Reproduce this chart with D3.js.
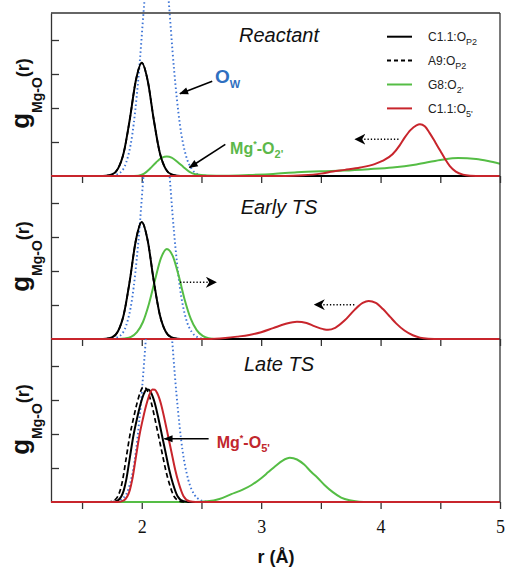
<!DOCTYPE html>
<html>
<head>
<meta charset="utf-8">
<script src="https://cdnjs.cloudflare.com/ajax/libs/d3/7.8.5/d3.min.js"></script>
<style>
body { margin: 0; background: #fff; }
svg { display: block; }
</style>
</head>
<body>
<svg id="canvas" width="505" height="569"></svg>
<script>
/************* Data **************/
var r_domain = [1.24, 5];
var x_ticks = [1.5, 2, 2.5, 3, 3.5, 4, 4.5, 5];
var y_ticks = [1, 2, 3, 4];
var panel_titles = ["Reactant", "Early TS", "Late TS"];

// [r, g(r)]
var reactant_ow = [[1.24,0],[1.72,0],[1.77,0.02],[1.82,0.1],[1.87,0.4],[1.92,1.2],[1.97,2.8],[2.02,5.05],[2.07,7.25],[2.12,8.2],[2.17,7.4],[2.22,5.4],[2.27,3.15],[2.32,1.5],[2.37,0.6],[2.42,0.2],[2.47,0.05],[2.52,0.01],[2.6,0],[5,0]];
var reactant_c11_op2 = [[1.24,0],[1.65,0],[1.70,0.007],[1.75,0.044],[1.80,0.21],[1.85,0.70],[1.90,1.67],[1.95,2.80],[2.00,3.33],[2.05,2.80],[2.10,1.67],[2.15,0.70],[2.20,0.21],[2.25,0.044],[2.30,0.007],[2.35,0],[5,0]];
var reactant_a9_op2 = [[1.24,0],[1.65,0],[1.70,0.007],[1.75,0.044],[1.80,0.21],[1.85,0.70],[1.90,1.67],[1.95,2.80],[2.00,3.33],[2.05,2.80],[2.10,1.67],[2.15,0.70],[2.20,0.21],[2.25,0.044],[2.30,0.007],[2.35,0],[5,0]];
var reactant_g8_o2 = [[1.24,0],[1.90,0],[1.97,0.01],[2.02,0.07],[2.07,0.22],[2.12,0.40],[2.17,0.54],[2.21,0.57],[2.25,0.54],[2.30,0.41],[2.35,0.26],[2.40,0.12],[2.45,0.05],[2.55,0.015],[2.7,0.01],[2.9,0.03],[3.1,0.06],[3.3,0.11],[3.5,0.14],[3.7,0.16],[3.9,0.2],[4.1,0.25],[4.3,0.34],[4.5,0.47],[4.65,0.53],[4.8,0.5],[4.9,0.44],[5.0,0.36]];
var reactant_c11_o5 = [[1.24,0],[3.2,0],[3.35,0.02],[3.5,0.07],[3.6,0.13],[3.7,0.18],[3.83,0.25],[3.95,0.35],[4.02,0.45],[4.1,0.64],[4.16,0.9],[4.2,1.12],[4.25,1.35],[4.3,1.49],[4.33,1.52],[4.37,1.46],[4.41,1.27],[4.46,0.98],[4.5,0.74],[4.54,0.5],[4.58,0.29],[4.63,0.13],[4.69,0.04],[4.75,0.01],[4.85,0],[5,0]];

var early_ow = [[1.24,0],[1.72,0],[1.77,0.02],[1.82,0.1],[1.87,0.4],[1.92,1.2],[1.97,2.8],[2.02,5.05],[2.07,7.25],[2.12,8.2],[2.17,7.4],[2.22,5.4],[2.27,3.15],[2.32,1.5],[2.37,0.6],[2.42,0.2],[2.47,0.05],[2.52,0.01],[2.6,0],[5,0]];
var early_c11_op2 = [[1.24,0],[1.65,0],[1.70,0.007],[1.75,0.045],[1.80,0.22],[1.85,0.73],[1.90,1.72],[1.95,2.89],[2.00,3.44],[2.05,2.89],[2.10,1.72],[2.15,0.73],[2.20,0.22],[2.25,0.045],[2.30,0.007],[2.35,0],[5,0]];
var early_a9_op2 = [[1.24,0],[1.65,0],[1.70,0.007],[1.75,0.045],[1.80,0.22],[1.85,0.73],[1.90,1.72],[1.95,2.89],[2.00,3.44],[2.05,2.89],[2.10,1.72],[2.15,0.73],[2.20,0.22],[2.25,0.045],[2.30,0.007],[2.35,0],[5,0]];
var early_g8_o2 = [[1.24,0],[1.81,0],[1.86,0.015],[1.91,0.06],[1.96,0.2],[2.01,0.5],[2.06,1.03],[2.11,1.72],[2.16,2.37],[2.21,2.65],[2.26,2.44],[2.31,1.85],[2.36,1.15],[2.41,0.6],[2.46,0.26],[2.51,0.09],[2.56,0.025],[2.65,0],[5,0]];
var early_c11_o5 = [[1.24,0],[2.55,0],[2.7,0.03],[2.8,0.07],[2.9,0.12],[3.0,0.2],[3.1,0.32],[3.2,0.44],[3.3,0.51],[3.38,0.47],[3.45,0.37],[3.52,0.29],[3.56,0.27],[3.62,0.33],[3.7,0.55],[3.78,0.85],[3.85,1.06],[3.9,1.12],[3.96,1.06],[4.02,0.88],[4.08,0.65],[4.13,0.46],[4.2,0.25],[4.27,0.11],[4.33,0.04],[4.4,0.01],[4.5,0],[5,0]];

var late_ow = [[1.24,0],[1.74,0],[1.79,0.02],[1.84,0.1],[1.89,0.4],[1.94,1.2],[1.99,2.8],[2.04,5.05],[2.09,7.25],[2.14,8.2],[2.19,7.4],[2.24,5.4],[2.29,3.2],[2.34,1.55],[2.39,0.65],[2.44,0.22],[2.49,0.06],[2.54,0.01],[2.62,0],[5,0]];
var late_c11_op2 = [[1.24,0],[1.75,0],[1.80,0.05],[1.85,0.35],[1.87,0.65],[1.90,1.3],[1.93,1.95],[1.96,2.45],[1.99,2.88],[2.02,3.2],[2.04,3.31],[2.06,3.3],[2.08,3.2],[2.11,2.9],[2.14,2.45],[2.17,1.95],[2.20,1.45],[2.23,0.95],[2.26,0.55],[2.30,0.17],[2.35,0.02],[2.40,0],[5,0]];
var late_a9_op2 = [[1.24,0],[1.72,0],[1.77,0.05],[1.82,0.35],[1.84,0.65],[1.87,1.3],[1.90,1.95],[1.93,2.45],[1.96,2.9],[1.99,3.25],[2.01,3.38],[2.03,3.36],[2.05,3.25],[2.08,2.92],[2.11,2.45],[2.14,1.95],[2.17,1.45],[2.20,0.95],[2.23,0.55],[2.27,0.17],[2.32,0.02],[2.37,0],[5,0]];
var late_g8_o2 = [[1.24,0],[2.45,0],[2.55,0.02],[2.65,0.09],[2.75,0.23],[2.85,0.37],[2.92,0.5],[3.0,0.7],[3.06,0.88],[3.12,1.06],[3.18,1.22],[3.24,1.3],[3.3,1.25],[3.36,1.1],[3.42,0.88],[3.47,0.72],[3.53,0.5],[3.6,0.29],[3.67,0.13],[3.74,0.05],[3.82,0.01],[3.9,0],[5,0]];
var late_c11_o5 = [[1.24,0],[1.80,0],[1.85,0.05],[1.90,0.35],[1.92,0.65],[1.95,1.3],[1.98,1.95],[2.01,2.45],[2.04,2.88],[2.07,3.2],[2.09,3.31],[2.11,3.3],[2.13,3.2],[2.16,2.9],[2.19,2.45],[2.22,1.95],[2.25,1.45],[2.28,0.95],[2.31,0.55],[2.35,0.17],[2.40,0.02],[2.45,0],[5,0]];

// annotation arrows, in data units (panel, from, to)
var arrows = [
    {panel: 0, from: [2.59, 2.79], to: [2.32, 2.42], kind: "solid"},
    {panel: 0, from: [2.70, 0.93], to: [2.40, 0.25], kind: "solid"},
    {panel: 0, from: [4.15, 1.08], to: [3.79, 1.08], kind: "dotted"},
    {panel: 1, from: [2.32, 1.67], to: [2.62, 1.67], kind: "dotted"},
    {panel: 1, from: [3.78, 1.01], to: [3.45, 1.01], kind: "dotted"},
    {panel: 2, from: [2.56, 1.86], to: [2.19, 1.86], kind: "solid"}
];


/********** Initialisation *********/
var svg = d3.select("#canvas");
var sans = "'Liberation Sans', Arial, Helvetica, sans-serif";
var serif = "'Liberation Serif', 'Times New Roman', serif";

var plot_left = 51, plot_right = 500;
var plot_top = 13, panel_h = 163;
var px_per_unit = 34;

var col_black = "#000", col_green = "#55bd45", col_red = "#c8252c", col_blue = "#3d74d6";

var x = d3.scaleLinear().domain(r_domain).range([plot_left, plot_right]);
var y = d3.scaleLinear().domain([0, panel_h / px_per_unit]).range([panel_h, 0]);

var line = d3.line()
    .x(function(d) { return x(d[0]); })
    .y(function(d) { return y(d[1]); })
    .curve(d3.curveMonotoneX);

var defs = svg.append("defs");
defs.append("marker")
    .attr("id", "tri").attr("viewBox", "0 -5 10 10")
    .attr("refX", 9).attr("refY", 0)
    .attr("markerUnits", "userSpaceOnUse")
    .attr("markerWidth", 10).attr("markerHeight", 9)
    .attr("orient", "auto")
    .append("path").attr("d", "M0,-4L10,0L0,4Z").attr("fill", "#000");
defs.append("marker")
    .attr("id", "barb").attr("viewBox", "0 -5 10 10")
    .attr("refX", 9).attr("refY", 0)
    .attr("markerUnits", "userSpaceOnUse")
    .attr("markerWidth", 11).attr("markerHeight", 11)
    .attr("orient", "auto")
    .append("path").attr("d", "M0,-5L10,0L0,5L3,0Z").attr("fill", "#000");

var panels = [
    {ow: reactant_ow, g8: reactant_g8_o2, a9: reactant_a9_op2, c11: reactant_c11_op2, o5: reactant_c11_o5},
    {ow: early_ow, g8: early_g8_o2, a9: early_a9_op2, c11: early_c11_op2, o5: early_c11_o5},
    {ow: late_ow, g8: late_g8_o2, a9: late_a9_op2, c11: late_c11_op2, o5: late_c11_o5}
];

function rich(sel, parts) {
    // parts: [text, font size, dy]
    parts.forEach(function(p) {
        sel.append("tspan")
            .attr("font-size", p[1])
            .attr("dy", p[2])
            .text(p[0]);
    });
}


/********** Panels ***********/
panels.forEach(function(p, i) {
    var top = plot_top + i * panel_h;
    var g = svg.append("g").attr("transform", "translate(0," + top + ")");

    var clip_top = (i === 0) ? -top : 0;
    defs.append("clipPath").attr("id", "clip" + i)
        .append("rect")
        .attr("x", plot_left).attr("y", clip_top)
        .attr("width", plot_right - plot_left)
        .attr("height", panel_h + 1.5 - clip_top);

    // left axis, ticks pointing inward
    var yaxis = g.append("g")
        .attr("transform", "translate(" + plot_left + ",0)")
        .call(d3.axisRight(y).tickValues(y_ticks).tickSize(8).tickSizeOuter(0).tickFormat(""));
    yaxis.select(".domain").attr("stroke", "#333").attr("stroke-width", 1.3);
    yaxis.selectAll(".tick line").attr("stroke", "#333").attr("stroke-width", 1.3);

    // bottom axis of the panel (baseline itself is drawn by the curves)
    var xaxis = g.append("g")
        .attr("transform", "translate(0," + panel_h + ")")
        .call(d3.axisBottom(x).tickValues(x_ticks).tickSize(7).tickSizeOuter(0).tickPadding(11)
            .tickFormat(function(d) { return (i === 2 && d % 1 === 0) ? d : ""; }));
    xaxis.select(".domain").remove();
    xaxis.selectAll(".tick line").attr("stroke", "#333").attr("stroke-width", 1.3);
    xaxis.selectAll(".tick text")
        .attr("font-family", serif).attr("font-size", 18).attr("fill", "#111");

    var curves = g.append("g").attr("clip-path", "url(#clip" + i + ")");

    var series = [
        {data: p.ow, color: col_blue, width: 1.9, dash: "1.5,2.6"},
        {data: p.g8, color: col_green, width: 2},
        {data: p.a9, color: col_black, width: 1.7, dash: "5,3"},
        {data: p.c11, color: col_black, width: 2},
        {data: p.o5, color: col_red, width: 2}
    ];

    curves.selectAll("path")
        .data(series)
        .enter()
        .append("path")
        .attr("d", function(d) { return line(d.data); })
        .attr("fill", "none")
        .attr("stroke", function(d) { return d.color; })
        .attr("stroke-width", function(d) { return d.width; })
        .attr("stroke-dasharray", function(d) { return d.dash || null; });

    // right border
    g.append("line")
        .attr("x1", plot_right).attr("x2", plot_right)
        .attr("y1", 0).attr("y2", panel_h)
        .attr("stroke", "#333").attr("stroke-width", 1.3);

    // panel title
    g.append("text")
        .attr("x", 279).attr("y", [28.7, 37.5, 32.2][i])
        .attr("text-anchor", "middle")
        .attr("font-family", sans).attr("font-style", "italic")
        .attr("font-size", 20).attr("fill", "#111")
        .text(panel_titles[i]);

    // y label  g_Mg-O(r)
    var ylab = g.append("text")
        .attr("transform", "translate(29," + (panel_h / 2 - 1) + ") rotate(-90)")
        .attr("text-anchor", "middle")
        .attr("font-family", sans).attr("font-weight", "bold").attr("fill", "#111");
    rich(ylab, [["g", 26, 0], ["Mg-O", 14, 13], ["(r)", 18, -13]]);
});

// top border
svg.append("line")
    .attr("x1", plot_left).attr("x2", plot_right)
    .attr("y1", plot_top).attr("y2", plot_top)
    .attr("stroke", "#333").attr("stroke-width", 1.3);


/********** Legend ***********/
var legend_items = [
    {color: col_black, dash: null, parts: [["C1.1:O", 12, 0], ["P2", 9, 4]]},
    {color: col_black, dash: "4,3", parts: [["A9:O", 12, 0], ["P2", 9, 4]]},
    {color: col_green, dash: null, parts: [["G8:O", 12, 0], ["2'", 9, 4]]},
    {color: col_red, dash: null, parts: [["C1.1:O", 12, 0], ["5'", 9, 4]]}
];
var legend = svg.append("g").attr("transform", "translate(0," + plot_top + ")");
legend_items.forEach(function(it, k) {
    var ly = 23.7 + k * 23.9;
    legend.append("line")
        .attr("x1", 387).attr("x2", 412).attr("y1", ly).attr("y2", ly)
        .attr("stroke", it.color).attr("stroke-width", 2)
        .attr("stroke-dasharray", it.dash);
    var t = legend.append("text")
        .attr("x", 428).attr("y", ly + 4.5)
        .attr("font-family", sans).attr("fill", "#222");
    rich(t, it.parts);
});


/********** Annotations ***********/
arrows.forEach(function(a) {
    var top = plot_top + a.panel * panel_h;
    svg.append("line")
        .attr("x1", x(a.from[0])).attr("y1", top + y(a.from[1]))
        .attr("x2", x(a.to[0])).attr("y2", top + y(a.to[1]))
        .attr("stroke", "#000")
        .attr("stroke-width", a.kind === "solid" ? 1.6 : 1.5)
        .attr("stroke-dasharray", a.kind === "solid" ? null : "1.3,2")
        .attr("marker-end", a.kind === "solid" ? "url(#tri)" : "url(#barb)");
});

var ow = svg.append("text")
    .attr("x", x(2.613)).attr("y", plot_top + y(2.74))
    .attr("font-family", sans).attr("font-weight", "bold").attr("fill", "#2f6fc0");
rich(ow, [["O", 19, 0], ["W", 11, 5]]);

var mg2 = svg.append("text")
    .attr("x", x(2.74)).attr("y", plot_top + y(0.66))
    .attr("font-family", sans).attr("font-weight", "bold").attr("fill", "#5cb84a");
rich(mg2, [["Mg", 16, 0], ["*", 9, -7], ["-O", 16, 7], ["2'", 11, 4]]);

var mg5 = svg.append("text")
    .attr("x", x(2.628)).attr("y", plot_top + 2 * panel_h + y(1.6))
    .attr("font-family", sans).attr("font-weight", "bold").attr("fill", "#c1272d");
rich(mg5, [["Mg", 16, 0], ["*", 9, -7], ["-O", 16, 7], ["5'", 11, 4]]);

// x axis title
svg.append("text")
    .attr("x", 276).attr("y", 563)
    .attr("text-anchor", "middle")
    .attr("font-family", sans).attr("font-weight", "bold")
    .attr("font-size", 18).attr("fill", "#111")
    .text("r (Å)");
</script>
</body>
</html>
